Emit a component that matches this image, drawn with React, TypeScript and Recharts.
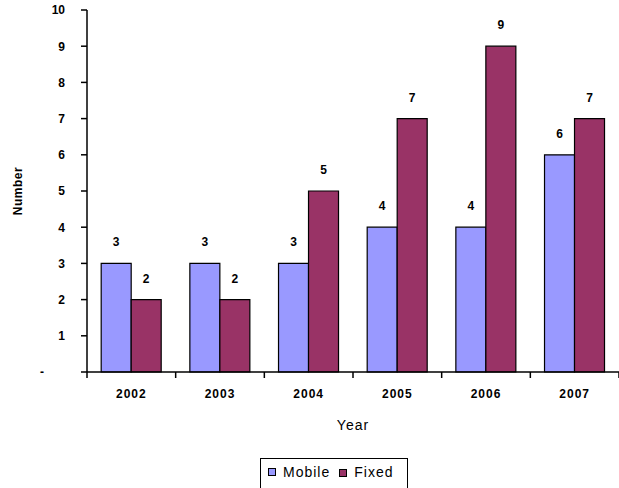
import {Bar, BarChart, Label, LabelList, Legend, XAxis, YAxis} from "recharts";

const years = ["2002", "2003", "2004", "2005", "2006", "2007"];
const mobile = [3, 3, 3, 4, 4, 6];
const fixed = [2, 2, 5, 7, 9, 7];
const yTicks = [0, 1, 2, 3, 4, 5, 6, 7, 8, 9, 10];

const data = years.map((year, i) => ({year, Mobile: mobile[i], Fixed: fixed[i]}));

const FONT = '"Liberation Sans", Arial, sans-serif';
const PLOT_LEFT = 87;
const PLOT_RIGHT = 619;
const BAND = (PLOT_RIGHT - PLOT_LEFT) / years.length;

const XTick = ({x, y, payload, index}: any) => (
    <g>
        <line x1={x - BAND / 2} x2={x - BAND / 2} y1={y} y2={y + 6} stroke="#000" strokeWidth={1.5}/>
        {index === years.length - 1 &&
            <line x1={x + BAND / 2} x2={x + BAND / 2} y1={y} y2={y + 6} stroke="#000" strokeWidth={1.5}/>}
        <text x={x} y={y + 26} textAnchor="middle" fontSize={12} fontWeight="bold" letterSpacing={1}
              fontFamily={FONT} fill="#000">{payload.value}</text>
    </g>
);

const YTick = ({x, y, payload}: any) => {
    if (payload.value === 0) {
        return <text x={42} y={y + 4} textAnchor="middle" fontSize={12} fontWeight="bold" fontFamily={FONT}
                     fill="#000">-</text>;
    }
    // the top label sits hard against the top edge, as in the original
    const shift = payload.value === 10 ? -0.5 : 0;
    return <text x={x} y={y + 4.3 + shift} textAnchor="end" fontSize={12} fontWeight="bold" fontFamily={FONT}
                 fill="#000">{payload.value}</text>;
};

const Swatch = ({color}: { color: string }) =>
    <span style={{display: "inline-block", width: 6, height: 6, background: color, border: "1px solid #000"}}/>;

const renderLegend = () => (
    <div style={{
        boxSizing: "border-box", height: 34, border: "1px solid #000", paddingTop: 5, paddingLeft: 7,
        display: "flex", fontFamily: FONT, fontSize: 14, letterSpacing: 1, lineHeight: "16px", color: "#000"
    }}>
        <div style={{display: "flex", alignItems: "center", alignSelf: "flex-start"}}>
            <Swatch color="#9999FF"/>
            <span style={{marginLeft: 7}}>Mobile</span>
            <span style={{marginLeft: 9}}><Swatch color="#993366"/></span>
            <span style={{marginLeft: 7}}>Fixed</span>
        </div>
    </div>
);

const labelStyle = {fontSize: 12, fontWeight: "bold", fontFamily: FONT};

export default function App() {
    return <div style={{position: "absolute", left: 0, top: 0}}>
        <BarChart width={619} height={488} data={data} margin={{top: 10, right: 0, bottom: 0, left: 0}}
                  barCategoryGap="16%" barGap={0} style={{fontFamily: FONT}}>
            <XAxis dataKey="year" height={116} interval={0} tickSize={0} tickMargin={0} tick={XTick}
                   axisLine={{stroke: "#000", strokeWidth: 1.5}}>
                <Label value="Year" position="insideTop" offset={48} fill="#000"
                       style={{fontSize: 14, fontFamily: FONT, letterSpacing: 1}}/>
            </XAxis>
            <YAxis width={87} domain={[0, 10]} ticks={yTicks} interval={0} tickSize={6} tickMargin={16}
                   tick={YTick} axisLine={{stroke: "#000", strokeWidth: 1.5}}
                   tickLine={{stroke: "#000", strokeWidth: 1.5}}>
                <Label value="Number" angle={-90} position="insideLeft" offset={18} fill="#000"
                       style={{textAnchor: "middle", fontSize: 12, fontWeight: "bold", fontFamily: FONT, letterSpacing: 0.5}}/>
            </YAxis>
            <Legend layout="horizontal" verticalAlign="middle" align="center" content={renderLegend}
                    wrapperStyle={{left: 260, top: 458, width: 148, height: 34}}/>
            <Bar dataKey="Mobile" fill="#9999FF" stroke="#000" strokeWidth={1.2} isAnimationActive={false}>
                <LabelList dataKey="Mobile" position="top" offset={17} fill="#000" style={labelStyle}/>
            </Bar>
            <Bar dataKey="Fixed" fill="#993366" stroke="#000" strokeWidth={1.2} isAnimationActive={false}>
                <LabelList dataKey="Fixed" position="top" offset={17} fill="#000" style={labelStyle}/>
            </Bar>
        </BarChart>
    </div>;
}
